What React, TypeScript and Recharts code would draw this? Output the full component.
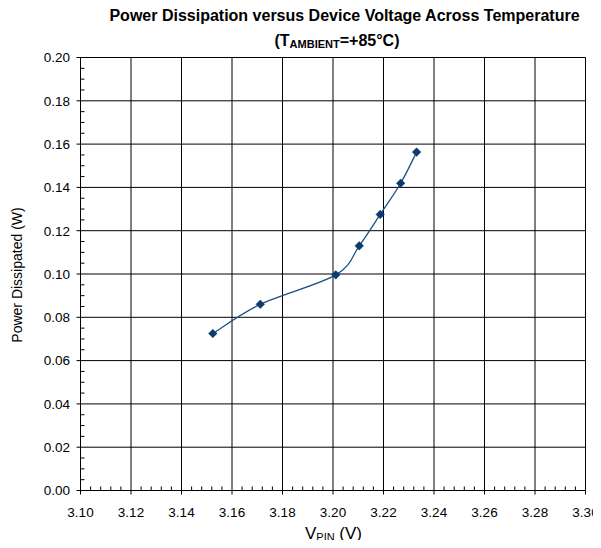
import React from 'react';
import { LineChart, Line, XAxis, YAxis, CartesianGrid } from 'recharts';

// ---- data ----
const vPin = [3.1524, 3.1712, 3.2011, 3.2104, 3.2187, 3.2268, 3.2331];
const powerW = [0.0725, 0.086, 0.0996, 0.113, 0.1275, 0.1419, 0.1563];
const xMajor = [3.1, 3.12, 3.14, 3.16, 3.18, 3.2, 3.22, 3.24, 3.26, 3.28, 3.3];
const yMajor = [0, 0.02, 0.04, 0.06, 0.08, 0.1, 0.12, 0.14, 0.16, 0.18, 0.2];
const xMinorPerMajor = 5;
const yMinorPerMajor = 4;

const data = vPin.map((x, i) => ({ x, y: powerW[i] }));

const subdivide = (majors: number[], n: number) => {
  const out: number[] = [];
  for (let i = 0; i < majors.length - 1; i++) {
    const a = majors[i];
    const b = majors[i + 1];
    for (let k = 0; k < n; k++) out.push(a + ((b - a) * k) / n);
  }
  out.push(majors[majors.length - 1]);
  return out;
};
const xTicks = subdivide(xMajor, xMinorPerMajor);
const yTicks = subdivide(yMajor, yMinorPerMajor);

const isMajor = (v: number, majors: number[]) => majors.some((m) => Math.abs(m - v) < 1e-9);

const FONT = '"Liberation Sans", Arial, Helvetica, sans-serif';

// Excel-like smoothed line (Catmull-Rom style Bezier)
const smoothCurve: any = (context: any) => {
  let pts: number[][] = [];
  return {
    areaStart() {},
    areaEnd() {},
    lineStart() {
      pts = [];
    },
    point(x: number, y: number) {
      pts.push([+x, +y]);
    },
    lineEnd() {
      const n = pts.length;
      if (!n) return;
      context.moveTo(pts[0][0], pts[0][1]);
      for (let i = 0; i < n - 1; i++) {
        const p0 = pts[i - 1] || pts[i];
        const p1 = pts[i];
        const p2 = pts[i + 1];
        const p3 = pts[i + 2] || p2;
        const c1x = p1[0] + (p2[0] - p0[0]) / 6;
        const c1y = p1[1] + (p2[1] - p0[1]) / 6;
        const c2x = p2[0] - (p3[0] - p1[0]) / 6;
        const c2y = p2[1] - (p3[1] - p1[1]) / 6;
        context.bezierCurveTo(c1x, c1y, c2x, c2y, p2[0], p2[1]);
      }
    },
  };
};

const XTick = (props: any) => {
  const { x, y, payload } = props;
  const v = payload.value as number;
  if (isMajor(v, xMajor)) {
    return (
      <g>
        <line x1={x} y1={y} x2={x} y2={y + 4} stroke="#000" strokeWidth={1} />
        <text x={x} y={y + 26} textAnchor="middle" fontSize={13.5} fontFamily={FONT} fill="#000">
          {v.toFixed(2)}
        </text>
      </g>
    );
  }
  return <line x1={x} y1={y} x2={x} y2={y - 4} stroke="#000" strokeWidth={1} />;
};

const YTick = (props: any) => {
  const { x, y, payload } = props;
  const v = payload.value as number;
  if (isMajor(v, yMajor)) {
    return (
      <g>
        <line x1={x - 4} y1={y} x2={x} y2={y} stroke="#000" strokeWidth={1} />
        <text x={x - 10.5} y={y + 4.8} textAnchor="end" fontSize={13.5} fontFamily={FONT} fill="#000">
          {v.toFixed(2)}
        </text>
      </g>
    );
  }
  return <line x1={x} y1={y} x2={x + 4} y2={y} stroke="#000" strokeWidth={1} />;
};

const Diamond = (props: any) => {
  const { cx, cy, index } = props;
  if (cx == null || cy == null) return null;
  const r = 4.3;
  return (
    <path
      key={`d-${index}`}
      d={`M${cx},${cy - r}L${cx + r},${cy}L${cx},${cy + r}L${cx - r},${cy}Z`}
      fill="#0b3a6e"
      stroke="#0b3a6e"
      strokeWidth={0.5}
    />
  );
};

export default function App() {
  return (
    <div
      style={{
        position: 'relative',
        width: 601,
        height: 548,
        marginLeft: -8,
        marginTop: -8,
        marginBottom: -8,
      }}
    >
      <LineChart
        width={601}
        height={548}
        data={data}
        margin={{ top: 57.5, right: 15.5, left: 0.5, bottom: 0 }}
      >
        <CartesianGrid
          stroke="#000"
          strokeWidth={1}
          horizontalValues={yMajor}
          verticalValues={xMajor}
        />
        <XAxis
          type="number"
          dataKey="x"
          domain={[3.1, 3.3]}
          ticks={xTicks}
          interval={0}
          tickSize={0}
          tickMargin={0}
          tickLine={false}
          axisLine={{ stroke: '#000', strokeWidth: 1 }}
          tick={(p: any) => <XTick {...p} />}
          height={57.5}
          allowDataOverflow
        />
        <YAxis
          type="number"
          domain={[0, 0.2]}
          ticks={yTicks}
          interval={0}
          tickSize={0}
          tickMargin={0}
          tickLine={false}
          axisLine={{ stroke: '#000', strokeWidth: 1 }}
          tick={(p: any) => <YTick {...p} />}
          width={80}
          allowDataOverflow
        />
        <Line
          type={smoothCurve}
          dataKey="y"
          stroke="#1f4f86"
          strokeWidth={1.3}
          dot={Diamond}
          activeDot={false}
          isAnimationActive={false}
        />
      </LineChart>
      <svg
        width={601}
        height={548}
        style={{ position: 'absolute', left: 0, top: 0, pointerEvents: 'none' }}
      >
        <text x={344.5} y={20.7} textAnchor="middle" fontSize={16} fontWeight="bold" fontFamily={FONT} fill="#000">
          Power Dissipation versus Device Voltage Across Temperature
        </text>
        <text x={337} y={45.7} textAnchor="middle" fontSize={16} fontWeight="bold" fontFamily={FONT} fill="#000">
          (T
          <tspan fontSize={11} dy={2}>AMBIENT</tspan>
          <tspan dy={-2}>=+85°C)</tspan>
        </text>
        <text
          x={22}
          y={275}
          transform="rotate(-90 22 275)"
          textAnchor="middle"
          fontSize={14}
          fontFamily={FONT}
          fill="#000"
        >
          Power Dissipated (W)
        </text>
        <text x={333.5} y={539} textAnchor="middle" fontSize={17} fontFamily={FONT} fill="#000">
          V
          <tspan fontSize={11} dy={2}>PIN</tspan>
          <tspan dy={-2}> (V)</tspan>
        </text>
      </svg>
    </div>
  );
}
